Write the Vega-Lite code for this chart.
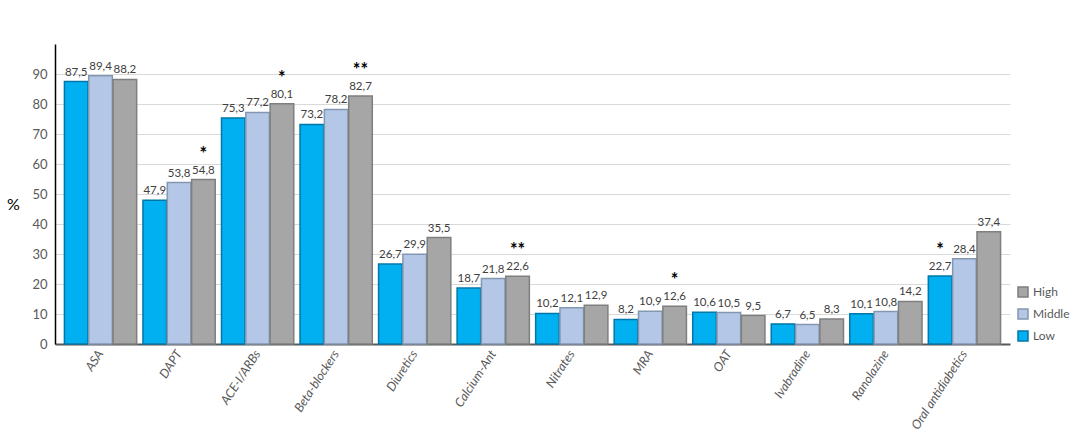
{
  "$schema": "https://vega.github.io/schema/vega-lite/v6.json",
  "autosize": {"type": "none"},
  "width": 955,
  "height": 300,
  "padding": {"left": 55, "top": 44, "right": 74, "bottom": 95},
  "config": {
    "view": {"stroke": null},
    "font": "Lato",
    "locale": {"number": {"decimal": ",", "thousands": ".", "grouping": [3], "currency": ["", " €"]}}
  },
  "data": {
    "values": [
      {"drug": "ASA", "group": "Low", "pct": 87.5, "sig": ""},
      {"drug": "ASA", "group": "Middle", "pct": 89.4, "sig": ""},
      {"drug": "ASA", "group": "High", "pct": 88.2, "sig": ""},
      {"drug": "DAPT", "group": "Low", "pct": 47.9, "sig": ""},
      {"drug": "DAPT", "group": "Middle", "pct": 53.8, "sig": ""},
      {"drug": "DAPT", "group": "High", "pct": 54.8, "sig": "*"},
      {"drug": "ACE-I/ARBs", "group": "Low", "pct": 75.3, "sig": ""},
      {"drug": "ACE-I/ARBs", "group": "Middle", "pct": 77.2, "sig": ""},
      {"drug": "ACE-I/ARBs", "group": "High", "pct": 80.1, "sig": "*"},
      {"drug": "Beta-blockers", "group": "Low", "pct": 73.2, "sig": ""},
      {"drug": "Beta-blockers", "group": "Middle", "pct": 78.2, "sig": ""},
      {"drug": "Beta-blockers", "group": "High", "pct": 82.7, "sig": "**"},
      {"drug": "Diuretics", "group": "Low", "pct": 26.7, "sig": ""},
      {"drug": "Diuretics", "group": "Middle", "pct": 29.9, "sig": ""},
      {"drug": "Diuretics", "group": "High", "pct": 35.5, "sig": ""},
      {"drug": "Calcium-Ant", "group": "Low", "pct": 18.7, "sig": ""},
      {"drug": "Calcium-Ant", "group": "Middle", "pct": 21.8, "sig": ""},
      {"drug": "Calcium-Ant", "group": "High", "pct": 22.6, "sig": "**"},
      {"drug": "Nitrates", "group": "Low", "pct": 10.2, "sig": ""},
      {"drug": "Nitrates", "group": "Middle", "pct": 12.1, "sig": ""},
      {"drug": "Nitrates", "group": "High", "pct": 12.9, "sig": ""},
      {"drug": "MRA", "group": "Low", "pct": 8.2, "sig": ""},
      {"drug": "MRA", "group": "Middle", "pct": 10.9, "sig": ""},
      {"drug": "MRA", "group": "High", "pct": 12.6, "sig": "*"},
      {"drug": "OAT", "group": "Low", "pct": 10.6, "sig": ""},
      {"drug": "OAT", "group": "Middle", "pct": 10.5, "sig": ""},
      {"drug": "OAT", "group": "High", "pct": 9.5, "sig": ""},
      {"drug": "Ivabradine", "group": "Low", "pct": 6.7, "sig": ""},
      {"drug": "Ivabradine", "group": "Middle", "pct": 6.5, "sig": ""},
      {"drug": "Ivabradine", "group": "High", "pct": 8.3, "sig": ""},
      {"drug": "Ranolazine", "group": "Low", "pct": 10.1, "sig": ""},
      {"drug": "Ranolazine", "group": "Middle", "pct": 10.8, "sig": ""},
      {"drug": "Ranolazine", "group": "High", "pct": 14.2, "sig": ""},
      {"drug": "Oral antidiabetics", "group": "Low", "pct": 22.7, "sig": "*"},
      {"drug": "Oral antidiabetics", "group": "Middle", "pct": 28.4, "sig": ""},
      {"drug": "Oral antidiabetics", "group": "High", "pct": 37.4, "sig": ""}
    ]
  },
  "encoding": {
    "x": {
      "field": "drug",
      "type": "nominal",
      "sort": null,
      "scale": {"paddingInner": 0.08, "paddingOuter": 0.12},
      "axis": {
        "title": null,
        "labelAngle": -57,
        "labelAlign": "right",
        "labelBaseline": "middle",
        "labelFontSize": 12.5,
        "labelFontStyle": "italic",
        "labelColor": "#595959",
        "labelPadding": 7,
        "ticks": false,
        "domainColor": "#595959",
        "domainWidth": 2
      }
    },
    "xOffset": {"field": "group", "type": "nominal", "sort": ["Low", "Middle", "High"], "scale": {"paddingInner": 0.03}},
    "y": {
      "field": "pct",
      "type": "quantitative",
      "scale": {"domain": [0, 100]},
      "axis": {
        "title": "%",
        "titleAngle": 0,
        "titleFontSize": 16,
        "titleFontWeight": "normal",
        "titleColor": "#000000",
        "titleX": -42,
        "titleY": 168,
        "values": [0, 10, 20, 30, 40, 50, 60, 70, 80, 90],
        "labelFontSize": 13,
        "labelColor": "#595959",
        "labelPadding": 8,
        "ticks": false,
        "domainColor": "#000000",
        "domainWidth": 1.5,
        "gridColor": "#d9d9d9"
      }
    }
  },
  "layer": [
    {
      "mark": {"type": "bar", "strokeWidth": 1.5},
      "encoding": {
        "color": {
          "field": "group",
          "type": "nominal",
          "scale": {"domain": ["Low", "Middle", "High"], "range": ["#00b0f0", "#b4c7e7", "#a6a6a6"]},
          "legend": {
            "title": null,
            "values": ["High", "Middle", "Low"],
            "orient": "none",
            "legendX": 962,
            "legendY": 242,
            "labelFontSize": 12,
            "labelColor": "#595959",
            "symbolType": "square",
            "rowPadding": 6
          }
        },
        "stroke": {
          "field": "group",
          "type": "nominal",
          "scale": {"domain": ["Low", "Middle", "High"], "range": ["#0077a8", "#8497b0", "#7f7f7f"]},
          "legend": null
        }
      }
    },
    {
      "mark": {"type": "text", "dy": -9, "fontSize": 11.5, "color": "#404040"},
      "encoding": {"text": {"field": "pct", "type": "quantitative", "format": ".1f"}}
    },
    {
      "mark": {"type": "text", "dy": -25, "fontSize": 18, "fontWeight": "bold", "color": "#000000"},
      "encoding": {"text": {"field": "sig", "type": "nominal"}}
    }
  ]
}
